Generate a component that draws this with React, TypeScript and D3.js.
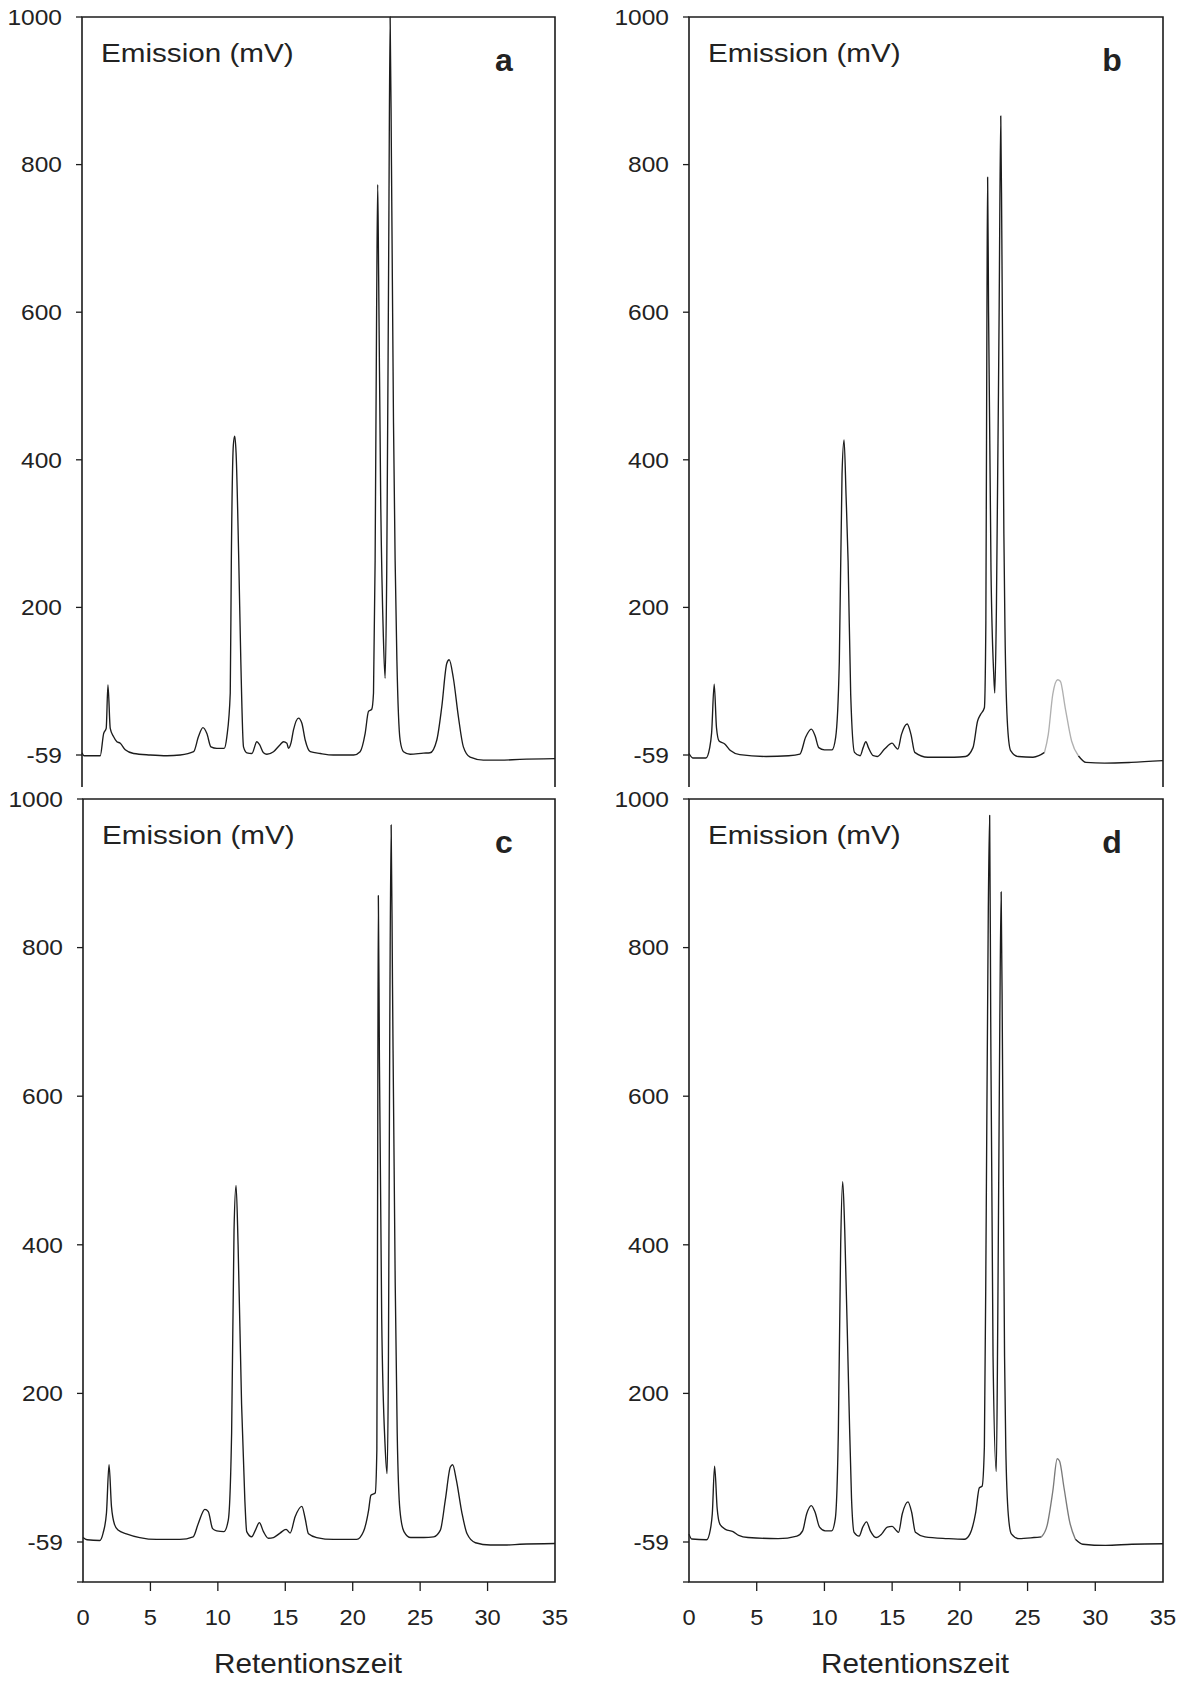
import React from "react";
import * as d3 from "d3";

// ---------- data (retention time [min], emission relative to the "-59" baseline tick) ----------
const xTicks = [0, 5, 10, 15, 20, 25, 30, 35];
const yTickValues = [0, 200, 400, 600, 800, 1000];
const yTickLabels = ["-59", "200", "400", "600", "800", "1000"];
const panelLetters = ["a", "b", "c", "d"];
const titleText = "Emission (mV)";
const xAxisTitle = "Retentionszeit";

const traceA: [number, number][] = [
  [0, 3], [0.15, -1], [1.35, -1], [1.6, 29], [1.79, 36], [1.92, 95], [2.09, 36], [2.33, 25], [2.58, 18], [2.83, 16],
  [3.2, 7], [3.82, 2], [5.05, 0], [6.28, -1], [7.27, 0], [8.26, 4.5], [8.62, 25], [8.95, 37], [9.24, 29], [9.54, 11],
  [9.98, 9], [10.52, 9], [10.72, 25], [10.97, 84], [11.05, 264], [11.2, 420], [11.3, 432], [11.4, 410], [11.6, 264],
  [11.75, 129], [11.95, 11], [12.2, 3], [12.57, 2], [12.94, 18], [13.14, 14], [13.43, 3], [13.68, 1], [14.17, 4.5],
  [14.66, 14], [14.91, 18], [15.16, 16], [15.28, 9], [15.46, 16], [15.65, 34], [16.02, 50], [16.27, 43], [16.52, 20],
  [16.89, 4.5], [17.63, 2], [18.6, 0], [20.1, 0], [20.58, 4.5], [20.95, 29], [21.2, 59], [21.44, 62], [21.57, 84],
  [21.69, 264], [21.8, 600], [21.88, 773], [21.95, 650], [22.1, 350], [22.3, 160], [22.43, 104], [22.55, 250],
  [22.7, 700], [22.8, 1000], [22.9, 800], [23.05, 450], [23.17, 264], [23.3, 129], [23.54, 20], [23.79, 4.5],
  [24.28, 1], [25.27, 2.5], [25.76, 3], [26.25, 20], [26.62, 65], [26.99, 124], [27.17, 129], [27.48, 104],
  [27.85, 52], [28.22, 11], [28.72, -3], [29.7, -7], [30.93, -7], [32.4, -6], [35, -5],
];

const traceB: [number, number][] = [
  [0, 2], [0.28, -4], [1.25, -4], [1.53, 10], [1.67, 30], [1.86, 96], [2.03, 37], [2.22, 19], [2.64, 15], [3.06, 6],
  [3.75, 0.5], [5.69, -2], [7.36, -1], [8.19, 1.3], [8.61, 24], [9.03, 35], [9.31, 26], [9.58, 10], [10.0, 7],
  [10.56, 7], [10.83, 24], [11.1, 127], [11.3, 380], [11.45, 427], [11.6, 350], [11.75, 261], [11.94, 82],
  [12.22, 3.6], [12.64, -1], [12.86, 10], [13.06, 18], [13.25, 10], [13.61, -1], [13.89, -2], [14.44, 8], [15.0, 16],
  [15.28, 10], [15.42, 8], [15.69, 28], [16.11, 42], [16.39, 28], [16.67, 3.6], [17.64, -3], [19.58, -3],
  [20.42, -2], [20.97, 10], [21.31, 46], [21.53, 55], [21.81, 64], [21.92, 180], [22.0, 600], [22.05, 783],
  [22.12, 600], [22.3, 250], [22.5, 110], [22.58, 84], [22.7, 200], [22.9, 600], [23.02, 866], [23.1, 700],
  [23.25, 300], [23.33, 172], [23.53, 37], [23.75, 6], [24.3, -2], [25.4, -3], [25.83, -1], [26.25, 3.6],
  [26.53, 28], [26.86, 82], [27.22, 102], [27.42, 100], [27.78, 64], [28.25, 19], [28.75, -1], [29.31, -10],
  [30.69, -11], [32.64, -10], [35, -7.6],
];

const traceC: [number, number][] = [
  [0, 6], [0.3, 3], [1.24, 2], [1.49, 12], [1.74, 39], [1.93, 104], [2.11, 48], [2.35, 23], [2.6, 16], [3.22, 11],
  [4.21, 6], [5.45, 3.5], [7.19, 3.5], [8.17, 7], [8.55, 25], [9.04, 44], [9.29, 41], [9.61, 18], [9.91, 15],
  [10.45, 14], [10.77, 29], [11.02, 146], [11.2, 420], [11.35, 480], [11.5, 400], [11.76, 185], [12.0, 57],
  [12.14, 14], [12.51, 7], [12.76, 15], [13.08, 26], [13.38, 14], [13.75, 5], [14.12, 6], [14.61, 12], [15.06, 17],
  [15.36, 12], [15.73, 34], [16.23, 48], [16.47, 32], [16.72, 11], [17.33, 6], [18.57, 3.5], [20.3, 3.5], [20.8, 14],
  [21.18, 43], [21.35, 63], [21.67, 66], [21.79, 124], [21.85, 500], [21.9, 870], [21.98, 650], [22.15, 300],
  [22.4, 130], [22.55, 92], [22.65, 250], [22.75, 700], [22.85, 965], [22.95, 750], [23.15, 350], [23.3, 146],
  [23.5, 43], [23.8, 14], [24.3, 6], [25.27, 6], [26.0, 7], [26.5, 16], [26.87, 57], [27.24, 101], [27.41, 104],
  [27.68, 84], [28.1, 39], [28.48, 11], [29.1, -1], [30.2, -4], [31.45, -4], [32.4, -3], [35, -2],
];

const traceD: [number, number][] = [
  [0, 10.6], [0.2, 4], [1.3, 3], [1.58, 17], [1.72, 38], [1.89, 102], [2.08, 45], [2.28, 24], [2.69, 17], [3.25, 14],
  [3.67, 9], [4.36, 6], [6.58, 4.6], [7.97, 8], [8.39, 15], [8.69, 38], [9.03, 49], [9.31, 40], [9.64, 20],
  [10.06, 15], [10.53, 15], [10.8, 31], [11.03, 151], [11.2, 400], [11.35, 485], [11.5, 420], [11.8, 197],
  [12.0, 59], [12.19, 13], [12.56, 8], [12.83, 20], [13.11, 27], [13.39, 15], [13.81, 6], [14.22, 10.6], [14.64, 20],
  [15.0, 21], [15.33, 15], [15.47, 13], [15.75, 38], [16.17, 54], [16.44, 40], [16.72, 13], [17.42, 7], [19.08, 4.6],
  [20.33, 3.7], [20.75, 11], [21.17, 40], [21.44, 73], [21.64, 75], [21.81, 128], [21.95, 450], [22.1, 850],
  [22.2, 978], [22.28, 700], [22.45, 250], [22.69, 95], [22.8, 300], [22.95, 700], [23.05, 875], [23.15, 650],
  [23.3, 250], [23.39, 128], [23.58, 36], [23.8, 11], [24.36, 4.6], [25.47, 6], [26.03, 7], [26.44, 22], [26.86, 68],
  [27.19, 112], [27.36, 109], [27.69, 73], [28.11, 27], [28.53, 3.7], [29.08, -3], [30.75, -4.6], [32.7, -3],
  [35, -2.3],
];

// faded stretch of the trace (retention-time range) per panel, or null
const fadedRanges: ([number, number] | null)[] = [null, [26.25, 28.75], null, [26.03, 28.53]];
const traces = [traceA, traceB, traceC, traceD];

// ---------- layout ----------
const W = 1186;
const H = 1681;
const layouts = [
  { left: 82, right: 555, top: 17, zeroY: 755, bottom: 787, xAxis: false },
  { left: 689, right: 1163, top: 17, zeroY: 755, bottom: 787, xAxis: false },
  { left: 83, right: 555, top: 799, zeroY: 1542, bottom: 1582, xAxis: true },
  { left: 689, right: 1163, top: 799, zeroY: 1542, bottom: 1582, xAxis: true },
];
const fadedColors = ["#1c1c1c", "#b0b0b0", "#1c1c1c", "#7a7a7a"];
const FONT = "'Liberation Sans', Arial, Helvetica, sans-serif";
const INK = "#1c1c1c";
const TEXT = "#222";

// text slightly widened horizontally, like the scanned original
function SText(props: {
  x: number;
  y: number;
  sx: number;
  size: number;
  anchor?: string;
  weight?: string;
  dy?: string;
  children: React.ReactNode;
}) {
  const { x, y, sx, size, anchor = "start", weight = "normal", dy, children } = props;
  return (
    <text
      transform={`translate(${x},${y}) scale(${sx},1)`}
      dy={dy}
      textAnchor={anchor}
      fontFamily={FONT}
      fontSize={size}
      fontWeight={weight}
      fill={TEXT}
    >
      {children}
    </text>
  );
}

function Panel({ idx }: { idx: number }) {
  const L = layouts[idx];
  const data = traces[idx];
  const faded = fadedRanges[idx];
  const x = d3.scaleLinear().domain([0, 35]).range([L.left, L.right]);
  const y = d3.scaleLinear().domain([0, 1000]).range([L.zeroY, L.top]);

  const inFaded = (t: number) => (faded ? t > faded[0] && t < faded[1] : false);
  const mainPath =
    d3
      .line<[number, number]>()
      .defined((d) => !inFaded(d[0]))
      .x((d) => x(d[0]))
      .y((d) => y(d[1]))
      .curve(d3.curveMonotoneX)(data) || "";
  let fadedPath = "";
  if (faded) {
    const seg = data.filter((d) => d[0] >= faded[0] && d[0] <= faded[1]);
    fadedPath =
      d3
        .line<[number, number]>()
        .x((d) => x(d[0]))
        .y((d) => y(d[1]))
        .curve(d3.curveMonotoneX)(seg) || "";
  }

  const tickLen = 6;
  const frame = L.xAxis
    ? `M${L.left},${L.bottom}V${L.top}H${L.right}V${L.bottom}Z`
    : `M${L.left},${L.bottom}V${L.top}H${L.right}V${L.bottom}`;

  return (
    <g>
      <path d={mainPath} fill="none" stroke={INK} strokeWidth={1.35} strokeLinejoin="round" />
      {faded && (
        <path d={fadedPath} fill="none" stroke={fadedColors[idx]} strokeWidth={1.35} strokeLinejoin="round" />
      )}
      <path d={frame} fill="none" stroke={INK} strokeWidth={1.6} />
      {yTickValues.map((v, i) => (
        <g key={"y" + v}>
          <line x1={L.left - tickLen} x2={L.left} y1={y(v)} y2={y(v)} stroke={INK} strokeWidth={1.3} />
          <SText x={L.left - 20} y={y(v)} dy="0.36em" anchor="end" size={21.5} sx={1.14}>
            {yTickLabels[i]}
          </SText>
        </g>
      ))}
      {L.xAxis && (
        <g>
          <line x1={L.left - 6} x2={L.left} y1={L.bottom} y2={L.bottom} stroke={INK} strokeWidth={1.3} />
          {xTicks.map((t) => (
            <g key={"x" + t}>
              {t > 0 && t < 35 && (
                <line x1={x(t)} x2={x(t)} y1={L.bottom} y2={L.bottom + 9} stroke={INK} strokeWidth={1.3} />
              )}
              <SText x={x(t)} y={L.bottom + 43} anchor="middle" size={21.5} sx={1.1}>
                {t}
              </SText>
            </g>
          ))}
          <SText x={(L.left + L.right) / 2 - 11} y={L.bottom + 91} anchor="middle" size={28} sx={1.06}>
            {xAxisTitle}
          </SText>
        </g>
      )}
      <SText x={L.left + 19} y={L.top + 45} size={26} sx={1.14}>
        {titleText}
      </SText>
      <SText x={L.right - 51} y={L.top + 54} anchor="middle" size={32} sx={1} weight="bold">
        {panelLetters[idx]}
      </SText>
    </g>
  );
}

export default function App() {
  return (
    <svg
      width={W}
      height={H}
      viewBox={`0 0 ${W} ${H}`}
      style={{ position: "absolute", left: 0, top: 0, background: "#fff" }}
    >
      <rect x={0} y={0} width={W} height={H} fill="#fff" />
      {layouts.map((_, i) => (
        <Panel key={i} idx={i} />
      ))}
    </svg>
  );
}
